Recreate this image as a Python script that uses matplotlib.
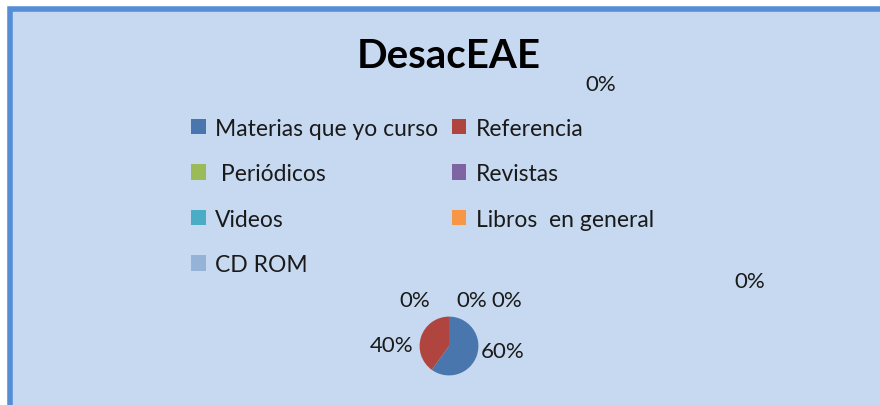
import matplotlib.pyplot as plt
from matplotlib.patches import Rectangle

# datos
categorias = ['Materias que yo curso', 'Referencia', ' Periódicos', 'Revistas',
              'Videos', 'Libros  en general', 'CD ROM']
valores = [60, 40, 0, 0, 0, 0, 0]
etiquetas = ['60%', '40%', '0%', '0%', '0%', '0%', '0%']
colores = ['#4A76AE', '#B0443F', '#9BBB59', '#8064A2', '#4BACC6', '#F79646', '#95B3D7']

plt.rcParams['font.family'] = ['Lato', 'DejaVu Sans']

fig = plt.figure(figsize=(8.8, 4.06), dpi=100)
fig.patch.set_facecolor('white')

# fondo del grafico con borde azul
W, H = 880, 406
fondo = Rectangle((10 / W, -0.1), 1.0, 1 - 10 / H + 0.1, transform=fig.transFigure,
                  facecolor='#C6D9F0', edgecolor='#558ED5', linewidth=4, zorder=-5)
fig.patches.append(fondo)

fig.text(449 / W, 1 - 57 / H, 'DesacEAE', ha='center', va='center',
         fontsize=29, fontweight='bold', color='black')

# pastel pequeño
ax = fig.add_axes([(449 - 30) / W, 1 - (347 + 30) / H, 60 / W, 60 / H])
ax.set_zorder(5)
wedges, _ = ax.pie(valores, colors=colores, startangle=90, counterclock=False,
                   wedgeprops=dict(linewidth=0))
ax.set_xlim(-1.02, 1.02)
ax.set_ylim(-1.02, 1.02)
ax.set_aspect('equal')
ax.axis('off')

# posiciones de etiquetas (px)
pos = [(503, 352), (392, 346), (415, 301), (472, 301), (507, 301), (601, 85), (750, 282)]
for (px, py), t in zip(pos, etiquetas):
    fig.text(px / W, 1 - py / H, t, ha='center', va='center', fontsize=16, color='#1a1a1a')

orden = [0, 2, 4, 6, 1, 3, 5]
leg = fig.legend([wedges[i] for i in orden], [categorias[i] for i in orden],
                 ncol=2, loc='upper left', bbox_to_anchor=(170 / W, 1 - 98 / H),
                 frameon=False, fontsize=16.5, handlelength=0.65, handleheight=0.65,
                 handletextpad=0.4, labelspacing=1.07, columnspacing=0.6,
                 labelcolor='#1a1a1a')

fig.savefig('out.png', dpi=100)
